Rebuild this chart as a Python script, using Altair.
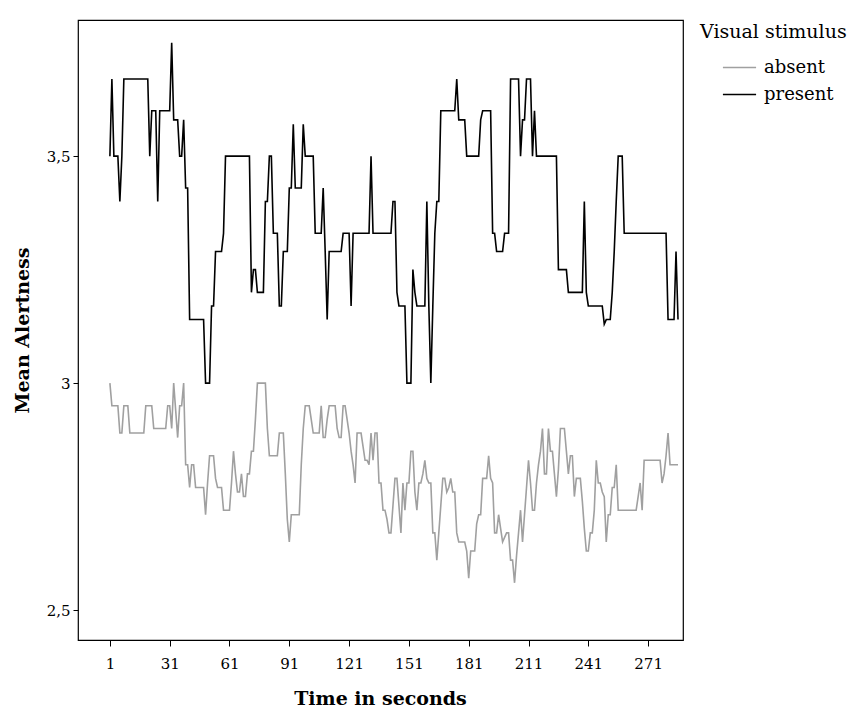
import altair as alt
import pandas as pd

# seconds 1..286
present = [
    3.5, 3.67, 3.5, 3.5, 3.5, 3.4, 3.5, 3.67, 3.67, 3.67,
    3.67, 3.67, 3.67, 3.67, 3.67, 3.67, 3.67, 3.67, 3.67, 3.67,
    3.5, 3.6, 3.6, 3.6, 3.4, 3.6, 3.6, 3.6, 3.6, 3.6,
    3.6, 3.75, 3.58, 3.58, 3.58, 3.5, 3.5, 3.58, 3.43, 3.43,
    3.14, 3.14, 3.14, 3.14, 3.14, 3.14, 3.14, 3.14, 3.0, 3.0,
    3.0, 3.17, 3.17, 3.29, 3.29, 3.29, 3.29, 3.33, 3.5, 3.5,
    3.5, 3.5, 3.5, 3.5, 3.5, 3.5, 3.5, 3.5, 3.5, 3.5,
    3.5, 3.2, 3.25, 3.25, 3.2, 3.2, 3.2, 3.2, 3.4, 3.4,
    3.5, 3.5, 3.33, 3.33, 3.33, 3.17, 3.17, 3.29, 3.29, 3.29,
    3.43, 3.43, 3.57, 3.43, 3.43, 3.43, 3.43, 3.57, 3.5, 3.5,
    3.5, 3.5, 3.5, 3.33, 3.33, 3.33, 3.33, 3.43, 3.29, 3.14,
    3.29, 3.29, 3.29, 3.29, 3.29, 3.29, 3.29, 3.33, 3.33, 3.33,
    3.33, 3.17, 3.33, 3.33, 3.33, 3.33, 3.33, 3.33, 3.33, 3.33,
    3.33, 3.5, 3.33, 3.33, 3.33, 3.33, 3.33, 3.33, 3.33, 3.33,
    3.33, 3.33, 3.4, 3.4, 3.2, 3.17, 3.17, 3.17, 3.17, 3.0,
    3.0, 3.0, 3.25, 3.2, 3.17, 3.17, 3.17, 3.17, 3.17, 3.4,
    3.17, 3.0, 3.17, 3.33, 3.4, 3.4, 3.6, 3.6, 3.6, 3.6,
    3.6, 3.6, 3.6, 3.6, 3.67, 3.58, 3.58, 3.58, 3.58, 3.5,
    3.5, 3.5, 3.5, 3.5, 3.5, 3.5, 3.58, 3.6, 3.6, 3.6,
    3.6, 3.6, 3.33, 3.33, 3.29, 3.29, 3.29, 3.29, 3.33, 3.33,
    3.33, 3.67, 3.67, 3.67, 3.67, 3.67, 3.5, 3.58, 3.58, 3.67,
    3.67, 3.67, 3.5, 3.6, 3.5, 3.5, 3.5, 3.5, 3.5, 3.5,
    3.5, 3.5, 3.5, 3.5, 3.5, 3.25, 3.25, 3.25, 3.25, 3.25,
    3.2, 3.2, 3.2, 3.2, 3.2, 3.2, 3.2, 3.2, 3.4, 3.2,
    3.17, 3.17, 3.17, 3.17, 3.17, 3.17, 3.17, 3.17, 3.13, 3.14,
    3.14, 3.14, 3.2, 3.29, 3.4, 3.5, 3.5, 3.5, 3.33, 3.33,
    3.33, 3.33, 3.33, 3.33, 3.33, 3.33, 3.33, 3.33, 3.33, 3.33,
    3.33, 3.33, 3.33, 3.33, 3.33, 3.33, 3.33, 3.33, 3.33, 3.33,
    3.14, 3.14, 3.14, 3.14, 3.29, 3.14,
]

absent = [
    3.0, 2.95, 2.95, 2.95, 2.95, 2.89, 2.89, 2.95, 2.95, 2.95,
    2.89, 2.89, 2.89, 2.89, 2.89, 2.89, 2.89, 2.89, 2.95, 2.95,
    2.95, 2.95, 2.9, 2.9, 2.9, 2.9, 2.9, 2.9, 2.9, 2.95,
    2.95, 2.9, 3.0, 2.94, 2.88, 2.95, 2.95, 3.0, 2.82, 2.82,
    2.77, 2.82, 2.82, 2.77, 2.77, 2.77, 2.77, 2.77, 2.71, 2.78,
    2.84, 2.84, 2.84, 2.79, 2.77, 2.77, 2.77, 2.72, 2.72, 2.72,
    2.72, 2.78, 2.85, 2.8, 2.76, 2.76, 2.8, 2.75, 2.75, 2.8,
    2.8, 2.85, 2.85, 2.92, 3.0, 3.0, 3.0, 3.0, 3.0, 2.9,
    2.84, 2.84, 2.84, 2.84, 2.84, 2.89, 2.89, 2.89, 2.8, 2.7,
    2.65, 2.71, 2.71, 2.71, 2.71, 2.71, 2.82, 2.9, 2.95, 2.95,
    2.95, 2.92, 2.89, 2.89, 2.89, 2.89, 2.95, 2.88, 2.88, 2.92,
    2.95, 2.95, 2.95, 2.95, 2.9, 2.88, 2.88, 2.95, 2.95, 2.92,
    2.89, 2.85, 2.82, 2.78, 2.89, 2.89, 2.89, 2.86, 2.83, 2.83,
    2.82, 2.89, 2.83, 2.89, 2.89, 2.78, 2.78, 2.72, 2.72, 2.7,
    2.67, 2.67, 2.73, 2.79, 2.79, 2.73, 2.67, 2.78, 2.72, 2.78,
    2.78, 2.85, 2.85, 2.76, 2.72, 2.78, 2.78, 2.8, 2.83, 2.79,
    2.78, 2.78, 2.67, 2.67, 2.61, 2.67, 2.73, 2.79, 2.79, 2.76,
    2.77, 2.79, 2.76, 2.76, 2.67, 2.65, 2.65, 2.65, 2.65, 2.63,
    2.57, 2.63, 2.63, 2.63, 2.69, 2.71, 2.71, 2.79, 2.79, 2.79,
    2.84, 2.79, 2.78, 2.67, 2.67, 2.71, 2.68, 2.65, 2.66, 2.67,
    2.67, 2.61, 2.61, 2.56, 2.62, 2.67, 2.72, 2.65, 2.71, 2.77,
    2.83, 2.78, 2.72, 2.72, 2.78, 2.82, 2.85, 2.9, 2.8, 2.8,
    2.9, 2.85, 2.85, 2.8, 2.75, 2.81, 2.9, 2.9, 2.9, 2.85,
    2.8, 2.84, 2.84, 2.75, 2.79, 2.79, 2.79, 2.74, 2.68, 2.63,
    2.63, 2.67, 2.67, 2.72, 2.83, 2.78, 2.78, 2.76, 2.75, 2.65,
    2.71, 2.71, 2.77, 2.77, 2.82, 2.72, 2.72, 2.72, 2.72, 2.72,
    2.72, 2.72, 2.72, 2.72, 2.72, 2.75, 2.78, 2.72, 2.83, 2.83,
    2.83, 2.83, 2.83, 2.83, 2.83, 2.83, 2.83, 2.78, 2.8, 2.84,
    2.89, 2.82, 2.82, 2.82, 2.82, 2.82,
]

groups = ["absent", "present"]
colors = ["#a0a0a0", "#000000"]
x_ticks = [1, 31, 61, 91, 121, 151, 181, 211, 241, 271]
y_ticks = [2.5, 3.0, 3.5]

rows = []
for name, vals in (("absent", absent), ("present", present)):
    for i, v in enumerate(vals):
        rows.append({"t": i + 1, "value": v, "stim": name})
df = pd.DataFrame(rows)

FONT = "DejaVu Serif"

lines = alt.Chart(df).mark_line(strokeWidth=1.6).encode(
    x=alt.X(
        "t:Q",
        scale=alt.Scale(domain=[-15, 288.5], nice=False, zero=False),
        axis=alt.Axis(
            values=x_ticks, title="Time in seconds", grid=False, domain=False,
            tickSize=6, tickColor="black", labelColor="black", labelFontSize=15,
            labelFont=FONT, labelPadding=10, titleFont=FONT, titleFontSize=19,
            titleFontWeight="bold", titleColor="black", titleX=302,
            titleY=58, titleBaseline="middle", titleAlign="center",
        ),
    ),
    y=alt.Y(
        "value:Q",
        scale=alt.Scale(domain=[2.434, 3.8], nice=False, zero=False),
        axis=alt.Axis(
            values=y_ticks, title="Mean Alertness", grid=False, domain=False,
            tickSize=5, tickColor="black", labelColor="black", labelFontSize=15,
            labelFont=FONT, labelPadding=3,
            labelExpr="replace(toString(datum.value), '.', ',')",
            titleFont=FONT, titleFontSize=19, titleFontWeight="bold",
            titleColor="black", titleAngle=270, titleX=-56, titleY=310,
            titleBaseline="middle", titleAlign="center",
        ),
    ),
    color=alt.Color(
        "stim:N",
        scale=alt.Scale(domain=groups, range=colors),
        legend=alt.Legend(
            title=None, orient="none", legendX=644, legendY=30,
            symbolType="stroke", symbolSize=1100, symbolStrokeWidth=1.6,
            labelFont=FONT, labelFontSize=18, labelColor="black",
            labelOffset=7, rowPadding=-3, padding=0,
        ),
    ),
)

legend_title = alt.Chart(pd.DataFrame({"t": ["Visual stimulus"]})).mark_text(
    font=FONT, fontSize=19, color="black", align="left", baseline="middle"
).encode(text="t:N", x=alt.value(622), y=alt.value(12))

chart = (
    alt.layer(lines, legend_title)
    .properties(
        width=605, height=620,
        autosize=alt.AutoSizeParams(type="none"),
        padding={"left": 70, "top": 12, "right": 168, "bottom": 67},
    )
    .configure(background="white")
    .configure_view(stroke="black", strokeWidth=1.2)
)

chart.save("out.html", embed_options={"renderer": "svg", "actions": False})
